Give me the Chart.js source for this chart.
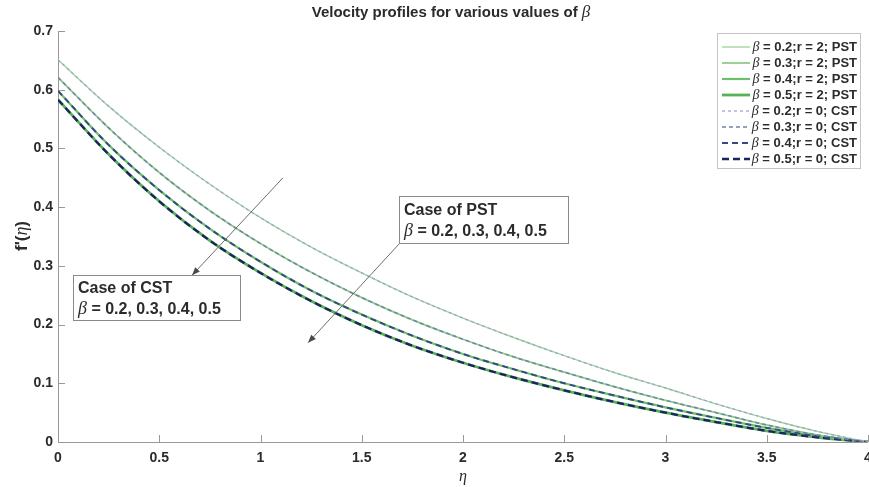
<!DOCTYPE html>
<html>
<head>
<meta charset="utf-8">
<script src="https://cdn.jsdelivr.net/npm/chart.js@4.4.1/dist/chart.umd.min.js"></script>
<style>
  html, body { margin: 0; padding: 0; background: #fff; }
  #wrap { width: 869px; height: 487px; }
</style>
</head>
<body>
<div id="wrap"><canvas id="c" width="869" height="487"></canvas></div>
<script>
// similarity variable eta
const eta = [0, 0.25, 0.5, 0.75, 1, 1.25, 1.5, 1.75, 2, 2.25, 2.5, 2.75, 3, 3.25, 3.5, 3.75, 4];

// f'(eta) for each beta (PST and CST profiles coincide)
const fBeta02 = [0.651, 0.572, 0.502, 0.439, 0.382, 0.332, 0.288, 0.247, 0.211, 0.178, 0.147, 0.118, 0.092, 0.065, 0.040, 0.018, 0];
const fBeta03 = [0.621, 0.535, 0.459, 0.394, 0.338, 0.289, 0.246, 0.208, 0.175, 0.145, 0.119, 0.094, 0.071, 0.050, 0.029, 0.012, 0];
const fBeta04 = [0.598, 0.506, 0.429, 0.363, 0.307, 0.258, 0.217, 0.181, 0.150, 0.124, 0.100, 0.079, 0.059, 0.041, 0.024, 0.010, 0];
const fBeta05 = [0.583, 0.490, 0.410, 0.343, 0.288, 0.240, 0.199, 0.164, 0.135, 0.110, 0.088, 0.068, 0.050, 0.034, 0.019, 0.008, 0];

const betaValues = ['0.2', '0.3', '0.4', '0.5'];
const xTickValues = [0, 0.5, 1, 1.5, 2, 2.5, 3, 3.5, 4];
const yTickValues = [0, 0.1, 0.2, 0.3, 0.4, 0.5, 0.6, 0.7];

const profiles = [fBeta02, fBeta03, fBeta04, fBeta05];

// line styles
const pstStyle = [
  { color: '#a2d69c', width: 1.4 },
  { color: '#8ccf86', width: 1.8 },
  { color: '#6cc06a', width: 2.2 },
  { color: '#56b256', width: 2.8 }
];
const cstStyle = [
  { color: '#9ea6c8', width: 1.3, dash: [3, 3] },
  { color: '#7482a8', width: 1.5, dash: [4, 3] },
  { color: '#384884', width: 1.9, dash: [6, 4] },
  { color: '#1c2262', width: 2.3, dash: [7, 4] }
];

const SANS = '"Liberation Sans", Arial, sans-serif';
const SERIF = '"Liberation Serif", "Times New Roman", serif';
const TEXT = '#2b2b2b';
const AXIS = '#9c9898';

function toPoints(ys) { return eta.map((x, i) => ({ x: x, y: ys[i] })); }

const datasets = [];
profiles.forEach((ys, i) => {
  datasets.push({
    label: 'PST ' + betaValues[i], data: toPoints(ys),
    borderColor: pstStyle[i].color, borderWidth: pstStyle[i].width,
    pointRadius: 0, cubicInterpolationMode: 'monotone', fill: false, order: 2
  });
});
profiles.forEach((ys, i) => {
  datasets.push({
    label: 'CST ' + betaValues[i], data: toPoints(ys),
    borderColor: cstStyle[i].color, borderWidth: cstStyle[i].width, borderDash: cstStyle[i].dash,
    pointRadius: 0, cubicInterpolationMode: 'monotone', fill: false, order: 1
  });
});

// draw a line of text made of runs with different fonts
function drawRuns(ctx, runs, x, y, align) {
  let total = 0;
  runs.forEach(r => { ctx.font = r.f; r.w = ctx.measureText(r.t).width; total += r.w; });
  let cx = align === 'center' ? x - total / 2 : (align === 'right' ? x - total : x);
  ctx.textAlign = 'left';
  runs.forEach(r => { ctx.font = r.f; ctx.fillText(r.t, cx, y); cx += r.w; });
}

function arrow(ctx, x0, y0, x1, y1) {
  ctx.save();
  ctx.strokeStyle = '#6e6e6e';
  ctx.fillStyle = '#4a4a4a';
  ctx.lineWidth = 1;
  ctx.beginPath(); ctx.moveTo(x0, y0); ctx.lineTo(x1, y1); ctx.stroke();
  const a = Math.atan2(y1 - y0, x1 - x0), L = 8, W = 3.2;
  ctx.beginPath();
  ctx.moveTo(x1, y1);
  ctx.lineTo(x1 - L * Math.cos(a) + W * Math.sin(a), y1 - L * Math.sin(a) - W * Math.cos(a));
  ctx.lineTo(x1 - L * Math.cos(a) - W * Math.sin(a), y1 - L * Math.sin(a) + W * Math.cos(a));
  ctx.closePath(); ctx.fill();
  ctx.restore();
}

// note boxes in data coordinates: [eta left, eta right, f' top, f' bottom]
const pstNote = { box: [1.684, 2.519, 0.419, 0.339], title: 'Case of PST', from: [1.689, 0.339], to: [1.235, 0.169] };
const cstNote = { box: [0.074, 0.899, 0.284, 0.208], title: 'Case of CST', from: [1.111, 0.450], to: [0.662, 0.284] };

function drawNote(ctx, xs, ys, note) {
  const l = xs.getPixelForValue(note.box[0]), r = xs.getPixelForValue(note.box[1]);
  const t = ys.getPixelForValue(note.box[2]), b = ys.getPixelForValue(note.box[3]);
  ctx.save();
  ctx.fillStyle = '#fff';
  ctx.fillRect(l, t, r - l, b - t);
  ctx.strokeStyle = '#8a8a8a'; ctx.lineWidth = 1;
  ctx.strokeRect(Math.round(l) + 0.5, Math.round(t) + 0.5, Math.round(r - l), Math.round(b - t));
  ctx.fillStyle = TEXT;
  ctx.textBaseline = 'middle';
  const h = b - t;
  drawRuns(ctx, [{ t: note.title, f: 'bold 16px ' + SANS }], l + 5, t + h * 0.31, 'left');
  drawRuns(ctx, [{ t: 'β', f: 'italic 18px ' + SERIF }, { t: ' = ' + betaValues.join(', '), f: 'bold 16px ' + SANS }], l + 5, t + h * 0.76, 'left');
  ctx.restore();
}

const overlay = {
  id: 'overlay',
  beforeDatasetsDraw(chart) {
    const { ctx, chartArea: a, scales: { x, y } } = chart;
    ctx.save();
    ctx.strokeStyle = AXIS; ctx.lineWidth = 1;
    ctx.beginPath();
    ctx.moveTo(a.left + 0.5, a.top); ctx.lineTo(a.left + 0.5, a.bottom + 0.5);
    ctx.lineTo(a.right, a.bottom + 0.5);
    // inward tick marks
    xTickValues.forEach(v => { const px = Math.round(x.getPixelForValue(v)) + 0.5; ctx.moveTo(px, a.bottom); ctx.lineTo(px, a.bottom - 7); });
    yTickValues.forEach(v => { const py = Math.round(y.getPixelForValue(v)) + 0.5; ctx.moveTo(a.left, py); ctx.lineTo(a.left + 7, py); });
    ctx.stroke();
    ctx.restore();
  },
  afterDraw(chart) {
    const { ctx, chartArea: a, scales: { x, y } } = chart;
    ctx.save();
    ctx.fillStyle = TEXT;
    ctx.textBaseline = 'middle';
    // title
    drawRuns(ctx, [{ t: 'Velocity profiles for various values of ', f: 'bold 15px ' + SANS }, { t: 'β', f: 'italic 17px ' + SERIF }], 451, 13, 'center');
    // x-axis title
    drawRuns(ctx, [{ t: 'η', f: 'italic 16px ' + SERIF }], (a.left + a.right) / 2, 477, 'center');
    // y-axis title
    ctx.save();
    ctx.translate(22, 236);
    ctx.rotate(-Math.PI / 2);
    drawRuns(ctx, [{ t: "f'(", f: 'bold 17px ' + SANS }, { t: 'η', f: 'italic 18px ' + SERIF }, { t: ')', f: 'bold 17px ' + SANS }], 0, 0, 'center');
    ctx.restore();

    // arrows then note boxes
    [pstNote, cstNote].forEach(n => {
      arrow(ctx, x.getPixelForValue(n.from[0]), y.getPixelForValue(n.from[1]), x.getPixelForValue(n.to[0]), y.getPixelForValue(n.to[1]));
    });
    drawNote(ctx, x, y, pstNote);
    drawNote(ctx, x, y, cstNote);

    // legend
    const lx = 717, ly = 33, lw = 143, lh = 135, row = 16, first = 47;
    ctx.fillStyle = '#fff';
    ctx.fillRect(lx, ly, lw, lh);
    ctx.strokeStyle = '#c4c4c4'; ctx.lineWidth = 1;
    ctx.strokeRect(lx + 0.5, ly + 0.5, lw, lh);
    const entries = [];
    betaValues.forEach((b, i) => entries.push({ b: b, rest: ';r = 2; PST', s: pstStyle[i], dash: [] }));
    betaValues.forEach((b, i) => entries.push({ b: b, rest: ';r = 0; CST', s: cstStyle[i], dash: cstStyle[i].dash }));
    entries.forEach((e, i) => {
      const cy = first + i * row;
      ctx.save();
      ctx.strokeStyle = e.s.color; ctx.lineWidth = e.s.width; ctx.setLineDash(e.dash);
      ctx.beginPath(); ctx.moveTo(722, cy); ctx.lineTo(750, cy); ctx.stroke();
      ctx.restore();
      ctx.fillStyle = TEXT;
      drawRuns(ctx, [{ t: 'β', f: 'italic 14px ' + SERIF }, { t: ' = ' + e.b + e.rest, f: 'bold 13px ' + SANS }], 857, cy, 'right');
    });
    ctx.restore();
  }
};

const fmt = v => String(Math.round(v * 10) / 10);

new Chart(document.getElementById('c'), {
  type: 'line',
  data: { datasets: datasets },
  options: {
    responsive: false,
    devicePixelRatio: 1,
    animation: false,
    layout: { padding: { left: 0, right: 1, top: 31, bottom: 0 } },
    plugins: { legend: { display: false }, title: { display: false }, tooltip: { enabled: false } },
    scales: {
      x: {
        type: 'linear', min: 0, max: 4,
        afterBuildTicks: s => { s.ticks = xTickValues.map(v => ({ value: v })); },
        afterFit: s => { s.height = 45; s.paddingLeft = 0; s.paddingRight = 0; },
        grid: { display: false, drawTicks: false },
        border: { display: false },
        ticks: { callback: fmt, padding: 8, color: TEXT, font: { family: SANS, size: 14, weight: 'bold' }, maxRotation: 0 }
      },
      y: {
        type: 'linear', min: 0, max: 0.7,
        afterBuildTicks: s => { s.ticks = yTickValues.map(v => ({ value: v })); },
        afterFit: s => { s.width = 58; s.paddingTop = 0; s.paddingBottom = 0; },
        grid: { display: false, drawTicks: false },
        border: { display: false },
        ticks: { callback: fmt, padding: 5, color: TEXT, font: { family: SANS, size: 14, weight: 'bold' } }
      }
    }
  },
  plugins: [overlay]
});
</script>
</body>
</html>
